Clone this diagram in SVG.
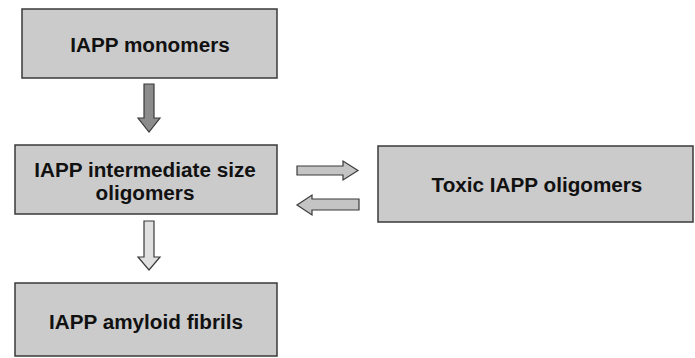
<svg xmlns="http://www.w3.org/2000/svg" width="695" height="358" viewBox="0 0 695 358">
<style>
.box{fill:#cbcbcb;stroke:#3a3a3a;stroke-width:1.5}
.t{font-family:"Liberation Sans",Arial,sans-serif;font-weight:bold;font-size:20.7px;fill:#111;text-anchor:middle}
.arr{stroke:#3a3a3a;stroke-width:1.2;stroke-linejoin:miter}
</style>
<rect width="695" height="358" fill="#fff"/>
<g id="monomers"><rect class="box" x="22" y="9" width="255" height="69"/><text class="t" x="150" y="52">IAPP monomers</text></g>
<g id="intermediate"><rect class="box" x="15" y="145" width="262" height="69"/><text class="t" x="145" y="177">IAPP intermediate size</text><text class="t" x="145" y="200">oligomers</text></g>
<g id="toxic"><rect class="box" x="378" y="146" width="315" height="76"/><text class="t" x="537" y="192">Toxic IAPP oligomers</text></g>
<g id="fibrils"><rect class="box" x="15" y="283" width="262" height="73"/><text class="t" x="146" y="329">IAPP amyloid fibrils</text></g>
<g id="connectors">
<polygon class="arr" fill="#8c8c8c" points="144,84 154,84 154,118 160,118 149,132 138,118 144,118"/>
<polygon class="arr" fill="#c4c4c4" points="297,166 343,166 343,161 358,170.5 343,180 343,175 297,175"/>
<polygon class="arr" fill="#c4c4c4" points="359,199 312,199 312,195 297,205 312,215 312,210 359,210"/>
<polygon class="arr" fill="#e0e0e0" points="144,221 154,221 154,257 160,257 149,270 138,257 144,257"/>
</g>
</svg>
